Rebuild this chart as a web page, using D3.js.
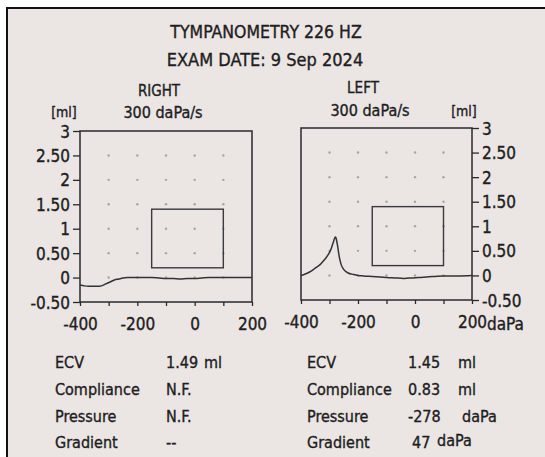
<!DOCTYPE html>
<html><head><meta charset="utf-8">
<script src="https://cdn.jsdelivr.net/npm/d3@7"></script>
<style>
html,body{margin:0;padding:0;background:#fff;}
svg{display:block;}
text{font-family:"DejaVu Sans Condensed","DejaVu Sans",sans-serif;fill:#1e1e1e;stroke:#1e1e1e;stroke-width:0.35px;}
</style></head><body>
<svg id="c" width="545" height="457"></svg>
<script>
// ---- data ----
const title = "TYMPANOMETRY 226 HZ";
const examDate = "EXAM DATE: 9 Sep 2024";
const ears = ["RIGHT", "LEFT"];
const rate = "300 daPa/s";
const xTicks = [-400, -200, 0, 200];
const xMinorTicks = [-400, -300, -200, -100, 0, 100, 200];
const yTicks = [3, 2.5, 2, 1.5, 1, 0.5, 0, -0.5];
const yTickLabels = ["3", "2.50", "2", "1.50", "1", "0.50", "0", "-0.50"];
const gridX = [-300, -200, -100, 0, 100];
const gridY = [0, 0.5, 1, 1.5, 2, 2.5];
const normalBox = {x0: -150, x1: 100, y0: 0.2, y1: 1.4};
// right ear curve (pressure daPa, compliance ml)
const rightPressure = [-400,-385,-370,-355,-340,-325,-310,-295,-280,-265,-250,-235,-220,-200,-175,-150,-125,-100,-75,-50,-25,0,25,50,75,100,125,150,175,200];
const rightVolume   = [-0.15,-0.17,-0.18,-0.18,-0.18,-0.17,-0.13,-0.09,-0.05,-0.03,-0.01,0,0,0,0,0,-0.01,-0.02,-0.02,-0.03,-0.02,-0.02,-0.01,0,0,0,0,0,0,0];
// left ear curve
const leftPressure = [-400,-385,-370,-357,-345,-333,-322,-312,-304,-298,-292,-287,-283,-280,-277,-274,-271,-268,-264,-259,-252,-245,-235,-216,-200,-181,-150,-123,-100,-70,-41,-20,-6,20,41,70,99,150,200];
const leftVolume   = [0.0,0.03,0.07,0.12,0.17,0.22,0.29,0.36,0.43,0.49,0.58,0.67,0.74,0.78,0.76,0.68,0.58,0.46,0.33,0.22,0.14,0.09,0.05,0.02,0.0,-0.01,-0.02,-0.03,-0.04,-0.05,-0.06,-0.05,-0.05,-0.04,-0.03,-0.02,-0.01,-0.01,0];
const statLabels = ["ECV", "Compliance", "Pressure", "Gradient"];
const rightVals = ["1.49", "N.F.", "N.F.", "--"];
const rightUnits = ["ml", "", "", ""];
const leftVals = ["1.45", "0.83", "-278", "47"];
const leftUnits = ["ml", "ml", "daPa", "daPa"];

// ---- drawing ----
const svg = d3.select("#c");
svg.append("rect").attr("x",7).attr("y",8).attr("width",545).attr("height",460)
  .attr("fill","#ebe5e4").attr("stroke","#111").attr("stroke-width",2);

const ink = "#2a2a2a";
svg.append("text").attr("x",266).attr("y",38).attr("text-anchor","middle")
  .style("font-size","17.5px").text(title);
svg.append("text").attr("x",265).attr("y",66).attr("text-anchor","middle")
  .style("font-size","18px").text(examDate);

const panels = [
  {ear: ears[0], left: 80, right: 252, top: 131, bottom: 302, side: "left", p: rightPressure, v: rightVolume,
   earX: 159, earY: 96, rateX: 163, rateY: 118, mlX: 64, mlY: 117},
  {ear: ears[1], left: 301, right: 472, top: 128, bottom: 300, side: "right", p: leftPressure, v: leftVolume,
   earX: 363, earY: 93, rateX: 370, rateY: 116, mlX: 464, mlY: 116}
];

panels.forEach((pn, i) => {
  const x = d3.scaleLinear().domain([-400, 200]).range([pn.left, pn.right]);
  const y = d3.scaleLinear().domain([-0.5, 3]).range([pn.bottom, pn.top]);
  const g = svg.append("g");

  g.append("text").attr("x",pn.earX).attr("y",pn.earY).attr("text-anchor","middle")
    .style("font-size","15px").text(pn.ear);
  g.append("text").attr("x",pn.rateX).attr("y",pn.rateY).attr("text-anchor","middle")
    .style("font-size","16px").text(rate);
  g.append("text").attr("x",pn.mlX).attr("y",pn.mlY).attr("text-anchor","middle")
    .style("font-size","14px").text("[ml]");

  // grid dots
  gridX.forEach(gx => gridY.forEach(gy => {
    g.append("circle").attr("cx", x(gx)).attr("cy", y(gy)).attr("r", 1.2).attr("fill", "#aaa3a3");
  }));

  // frame
  g.append("rect").attr("x", pn.left).attr("y", pn.top)
    .attr("width", pn.right - pn.left).attr("height", pn.bottom - pn.top)
    .attr("fill", "none").attr("stroke", ink).attr("stroke-width", 1.5);

  // y axis
  const yAxis = (pn.side === "left" ? d3.axisLeft(y) : d3.axisRight(y))
    .tickValues(yTicks).tickSize(7).tickPadding(3)
    .tickFormat(d => yTickLabels[yTicks.indexOf(d)]);
  const ya = g.append("g").attr("transform", `translate(${pn.side === "left" ? pn.left : pn.right},0)`).call(yAxis);
  ya.select(".domain").remove();
  ya.selectAll("line").attr("stroke", ink).attr("stroke-width", 1.3);
  ya.selectAll("text").style("font-size", "17px").attr("dy", "0.36em").attr("fill", "#1e1e1e");

  // x axis
  const xa = g.append("g").attr("transform", `translate(0,${pn.bottom})`)
    .call(d3.axisBottom(x).tickValues(xMinorTicks).tickSize(4).tickFormat(""));
  xa.select(".domain").remove();
  xa.selectAll("line").attr("stroke", ink).attr("stroke-width", 1.3);
  const xl = g.append("g").attr("transform", `translate(0,${pn.bottom})`)
    .call(d3.axisBottom(x).tickValues(xTicks).tickSize(0).tickPadding(16).tickFormat(d => String(d)));
  xl.select(".domain").remove();
  xl.selectAll("text").style("font-size", "17px").attr("fill", "#1e1e1e");

  // normal box
  g.append("rect").attr("x", x(normalBox.x0)).attr("y", y(normalBox.y1))
    .attr("width", x(normalBox.x1) - x(normalBox.x0)).attr("height", y(normalBox.y0) - y(normalBox.y1))
    .attr("fill", "none").attr("stroke", "#3a3a3a").attr("stroke-width", 1.4);

  // curve
  const pts = pn.p.map((d, k) => [d, pn.v[k]]);
  g.append("path").datum(pts)
    .attr("d", d3.line().x(d => x(d[0])).y(d => y(d[1])).curve(d3.curveMonotoneX))
    .attr("fill", "none").attr("stroke", "#333").attr("stroke-width", 1.5);

  if (i === 1) {
    g.append("text").attr("x", pn.right + 15).attr("y", pn.bottom + 30)
      .style("font-size", "17px").text("daPa");
  }
});

// stats table
const rowY = [368, 395, 422, 448];
statLabels.forEach((lab, k) => {
  svg.append("text").attr("x", 55).attr("y", rowY[k]).style("font-size","16px").text(lab);
  svg.append("text").attr("x", 166).attr("y", rowY[k]).style("font-size","16px").text(rightVals[k]);
  if (rightUnits[k]) svg.append("text").attr("x", 204).attr("y", rowY[k]).style("font-size","16px").text(rightUnits[k]);
  svg.append("text").attr("x", 307).attr("y", rowY[k]).style("font-size","16px").text(lab);
  svg.append("text").attr("x", k === 3 ? 412 : 408).attr("y", rowY[k]).style("font-size","16px").text(leftVals[k]);
  svg.append("text").attr("x", k === 3 ? 437 : (leftUnits[k] === "ml" ? 458 : 462)).attr("y", rowY[k] - (k===3?2:0))
    .style("font-size","16px").text(leftUnits[k]);
});
</script>
</body></html>
